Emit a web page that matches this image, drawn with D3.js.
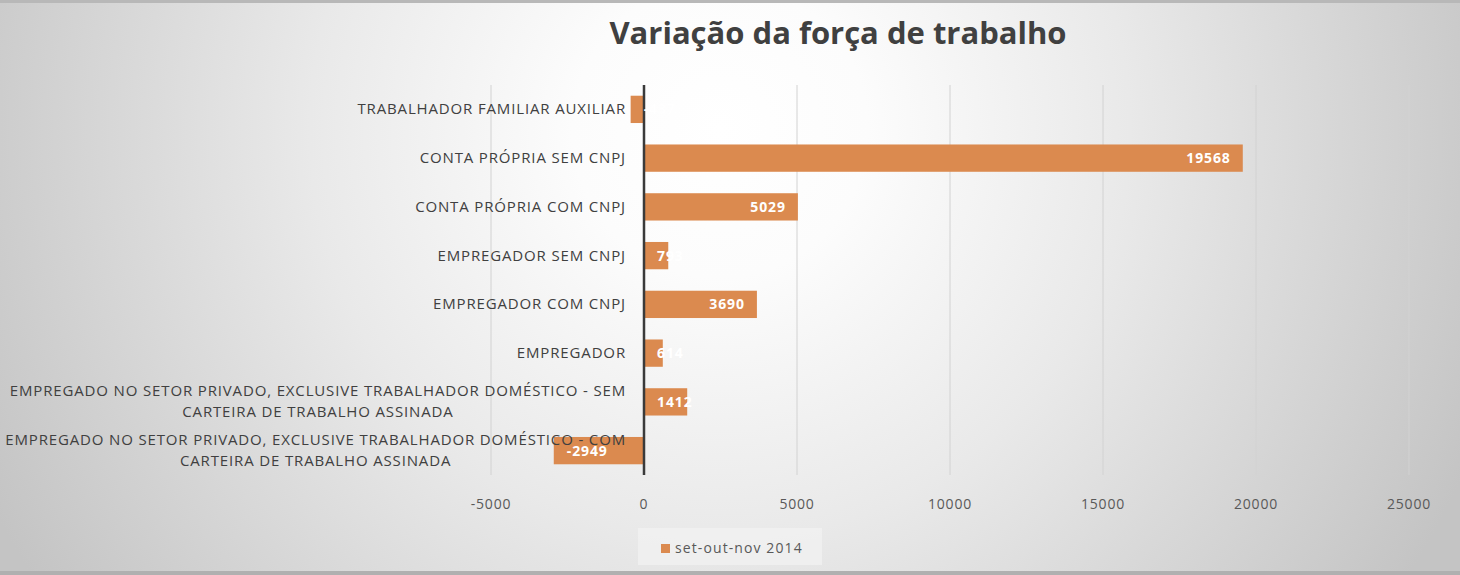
<!DOCTYPE html>
<html><head><meta charset="utf-8">
<script src="https://cdn.jsdelivr.net/npm/d3@7"></script>
<style>html,body{margin:0;padding:0;background:#fff}svg{display:block}</style>
</head><body><svg id="c" width="1460" height="575"></svg>
<script>
const categories = [
  "TRABALHADOR FAMILIAR AUXILIAR",
  "CONTA PRÓPRIA SEM CNPJ",
  "CONTA PRÓPRIA COM CNPJ",
  "EMPREGADOR SEM CNPJ",
  "EMPREGADOR COM CNPJ",
  "EMPREGADOR",
  "EMPREGADO NO SETOR PRIVADO, EXCLUSIVE TRABALHADOR DOMÉSTICO - SEM|CARTEIRA DE TRABALHO ASSINADA",
  "EMPREGADO NO SETOR PRIVADO, EXCLUSIVE TRABALHADOR DOMÉSTICO - COM|CARTEIRA DE TRABALHO ASSINADA"
];
const values = [-437, 19568, 5029, 793, 3690, 614, 1412, -2949];
const tickValues = [-5000, 0, 5000, 10000, 15000, 20000, 25000];
const seriesName = "set-out-nov 2014";
const title = "Variação da força de trabalho";

const svg = d3.select("#c");
const W = 1460, H = 575;
const defs = svg.append("defs");
const g = defs.append("radialGradient").attr("id","bg").attr("gradientUnits","userSpaceOnUse")
  .attr("cx",720).attr("cy",130).attr("r",820);
g.append("stop").attr("offset","0%").attr("stop-color","#ffffff");
g.append("stop").attr("offset","18%").attr("stop-color","#fcfcfc");
g.append("stop").attr("offset","50%").attr("stop-color","#e9e9e9");
g.append("stop").attr("offset","100%").attr("stop-color","#c4c4c4");
svg.append("rect").attr("width",W).attr("height",H).attr("fill","url(#bg)");
svg.append("rect").attr("x",0).attr("y",0).attr("width",W).attr("height",3).attr("fill","#b8b8b8");
svg.append("rect").attr("x",0).attr("y",571).attr("width",W).attr("height",4).attr("fill","#b0b0b0");

const font = "'Open Sans', sans-serif";
const x = d3.scaleLinear().domain([-5000, 25000]).range([491, 1409]);
const y = d3.scaleBand().domain(categories).range([85, 475]).paddingInner(0.44).paddingOuter(0.22);

// gridlines
svg.append("g").selectAll("line").data(tickValues.filter(d=>d!==0)).join("line")
  .attr("x1",d=>x(d)).attr("x2",d=>x(d)).attr("y1",85).attr("y2",475)
  .attr("stroke","#d2d2d2").attr("stroke-width",1);

// tick labels
svg.append("g").selectAll("text").data(tickValues).join("text")
  .attr("x",d=>x(d)).attr("y",509).attr("text-anchor","middle")
  .attr("font-family",font).attr("font-size",14).attr("letter-spacing",0.8).attr("fill","#595959")
  .text(d=>d);

// bars
svg.append("g").selectAll("rect").data(values).join("rect")
  .attr("x",(d)=>x(Math.min(0,d))).attr("width",d=>Math.abs(x(d)-x(0)))
  .attr("y",(d,i)=>y(categories[i])).attr("height",y.bandwidth())
  .attr("fill","#db8a4f");

// zero axis
svg.append("line").attr("x1",x(0)).attr("x2",x(0)).attr("y1",85).attr("y2",475)
  .attr("stroke","#3a3a3a").attr("stroke-width",2.5);

// data labels
const lbl = svg.append("g").selectAll("text").data(values).join("text")
  .attr("font-family",font).attr("font-size",14).attr("letter-spacing",0.9).attr("font-weight","bold").attr("fill","#ffffff")
  .attr("y",(d,i)=>y(categories[i])+y.bandwidth()/2+5)
  .text(d=>d);
lbl.each(function(d){
  const w = this.getComputedTextLength();
  let sx;
  if (d >= 0) sx = Math.max(x(d)-12-w, x(0)+13);
  else sx = x(d)+13;
  d3.select(this).attr("x", sx);
});

// category labels
const cl = svg.append("g");
const cfs = 15, cls = 0.85;
categories.forEach((c,i)=>{
  const lines = c.split("|");
  const cy = y(c)+y.bandwidth()/2;
  const t = cl.append("text").attr("font-family",font).attr("font-size",cfs).attr("letter-spacing",cls).attr("fill","#404040");
  if (lines.length===1){
    t.attr("x",626).attr("y",cy+5).attr("text-anchor","end").text(lines[0]);
  } else {
    const tmp = cl.append("text").attr("font-family",font).attr("font-size",cfs).attr("letter-spacing",cls).text(lines[0]);
    const w = tmp.node().getComputedTextLength(); tmp.remove();
    const mid = 626 - w/2;
    t.attr("text-anchor","middle");
    lines.forEach((ln,k)=>{
      t.append("tspan").attr("x",mid).attr("y",cy - 6 + k*21).text(ln);
    });
  }
});

// title
svg.append("text").attr("x",838).attr("y",44).attr("text-anchor","middle")
  .attr("font-family",font).attr("font-size",31).attr("font-weight","bold").attr("fill","#404040")
  .text(title);

// legend
const lg = svg.append("g");
lg.append("rect").attr("x",638).attr("y",528).attr("width",184).attr("height",37).attr("fill","#f2f2f2").attr("opacity",0.7);
lg.append("rect").attr("x",661).attr("y",544).attr("width",9).attr("height",9).attr("fill","#db8a4f");
lg.append("text").attr("x",675).attr("y",553).attr("font-family",font).attr("font-size",14).attr("letter-spacing",1.1).attr("fill","#595959").text(seriesName);
</script></body></html>
